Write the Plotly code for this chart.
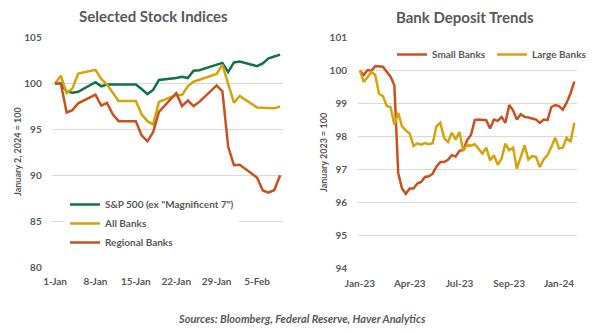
import plotly.graph_objects as go

# ---- Selected Stock Indices (daily, Jan 2, 2024 = 100) ----
trade_dates = [
    "2024-01-01", "2024-01-02", "2024-01-03", "2024-01-04", "2024-01-05",
    "2024-01-08", "2024-01-09", "2024-01-10", "2024-01-11", "2024-01-12",
    "2024-01-15", "2024-01-16", "2024-01-17", "2024-01-18", "2024-01-19",
    "2024-01-22", "2024-01-23", "2024-01-24", "2024-01-25", "2024-01-26",
    "2024-01-29", "2024-01-30", "2024-01-31", "2024-02-01", "2024-02-02",
    "2024-02-05", "2024-02-06", "2024-02-07", "2024-02-08", "2024-02-09",
]
sp500_ex_mag7 = [100.0, 100.0, 99.15, 99.0, 99.1, 100.15, 99.7, 99.9, 99.9, 99.9,
                 99.9, 99.4, 98.85, 99.3, 100.4, 100.6, 100.75, 100.6, 101.4, 101.45,
                 102.05, 102.25, 101.25, 102.3, 102.4, 101.9, 102.2, 102.75, 102.95, 103.15]
all_banks = [100.0, 100.85, 98.95, 99.45, 101.1, 101.5, 100.5, 99.9, 99.0, 98.1,
             98.1, 96.65, 95.9, 95.55, 98.0, 98.75, 98.75, 99.7, 100.2, 100.4,
             101.05, 102.05, 100.0, 97.9, 98.65, 97.4, 97.35, 97.3, 97.3, 97.5]
regional_banks = [100.0, 100.0, 96.85, 97.1, 97.85, 98.8, 97.6, 97.9, 96.65, 95.9,
                  95.9, 94.35, 93.7, 94.7, 96.9, 98.95, 97.55, 98.15, 97.55, 98.0,
                  99.8, 99.15, 93.1, 91.1, 91.15, 89.75, 88.35, 88.1, 88.4, 90.0]
left_tick_dates = ["2024-01-01", "2024-01-08", "2024-01-15",
                   "2024-01-22", "2024-01-29", "2024-02-05"]
left_tick_labels = ["1-Jan", "8-Jan", "15-Jan", "22-Jan", "29-Jan", "5-Feb"]

# ---- Bank Deposit Trends (weekly, January 2023 = 100) ----
week_index = list(range(57))
small_banks = [100.0, 99.87, 100.02, 100.0, 100.14, 100.14, 100.12, 99.97, 99.82, 99.56,
               96.9, 96.43, 96.27, 96.43, 96.43, 96.58, 96.63, 96.78, 96.8, 96.88,
               97.1, 97.23, 97.23, 97.3, 97.44, 97.4, 97.57, 97.6, 97.9, 98.05,
               98.5, 98.52, 98.5, 98.5, 98.25, 98.52, 98.48, 98.6, 98.42, 98.96,
               98.8, 98.52, 98.68, 98.6, 98.58, 98.55, 98.52, 98.42, 98.52, 98.5,
               98.9, 98.96, 98.93, 98.82, 99.03, 99.31, 99.67]
large_banks = [100.0, 99.66, 99.8, 99.97, 99.87, 99.3, 99.23, 98.93, 98.9, 98.36,
               98.72, 98.31, 98.19, 98.1, 97.72, 97.8, 97.76, 97.81, 97.77, 97.8,
               98.32, 98.42, 97.96, 97.84, 98.12, 97.91, 98.14, 97.57, 97.76, 97.73,
               97.77, 97.64, 97.49, 97.67, 97.28, 97.44, 97.15, 97.34, 97.79, 97.59,
               97.67, 97.03, 97.39, 97.74, 97.31, 97.41, 97.39, 97.08, 97.31, 97.44,
               97.69, 97.97, 97.64, 97.67, 97.97, 97.84, 98.42]
right_tick_weeks = [0, 13, 26, 39, 52]
right_tick_labels = ["Jan-23", "Apr-23", "Jul-23", "Sep-23", "Jan-24"]

GREEN = "#0E7448"
GOLD = "#D5A30B"
RUST = "#C8511F"
GRAY = "#595959"
GRID = "#D9D9D9"
FONT = "Lato"
W, H = 600, 334

fig = go.Figure()

left_series = [
    ('S&P 500 (ex "Magnificent 7")', sp500_ex_mag7, GREEN),
    ("All Banks", all_banks, GOLD),
    ("Regional Banks", regional_banks, RUST),
]
for name, vals, color in left_series:
    fig.add_trace(go.Scatter(
        x=trade_dates, y=vals, name=name, mode="lines",
        line=dict(color=color, width=2.5),
        xaxis="x", yaxis="y", legend="legend",
    ))

right_series = [
    ("Small Banks", small_banks, RUST),
    ("Large Banks", large_banks, GOLD),
]
for name, vals, color in right_series:
    fig.add_trace(go.Scatter(
        x=week_index, y=vals, name=name, mode="lines",
        line=dict(color=color, width=2.5),
        xaxis="x2", yaxis="y2", legend="legend2",
    ))


def px_x(p):
    return p / W


def px_y(p):
    return 1 - p / H


tick_font = dict(family=FONT, size=10, color=GRAY, weight="bold")
legend_font = dict(family=FONT, size=10, color=GRAY, weight="bold")

fig.update_layout(
    width=W, height=H,
    margin=dict(l=0, r=0, t=0, b=0, autoexpand=False),
    paper_bgcolor="white", plot_bgcolor="white",
    font=dict(family=FONT, color=GRAY),
    xaxis=dict(
        domain=[px_x(51.7), px_x(283)], type="date",
        range=["2023-12-31 10:00", "2024-02-09 12:00"],
        tickmode="array", tickvals=left_tick_dates, ticktext=left_tick_labels,
        showgrid=False, zeroline=False, showline=False, ticks="",
        tickfont=tick_font, ticklabelstandoff=7, automargin=False, anchor="y",
    ),
    yaxis=dict(
        domain=[px_y(267), px_y(37.7)], range=[80, 105], dtick=5,
        showgrid=True, gridcolor=GRID, gridwidth=1, zeroline=False,
        showline=False, ticks="", tickfont=tick_font,
        ticklabelstandoff=9, automargin=False, anchor="x",
    ),
    xaxis2=dict(
        domain=[px_x(358), px_x(577)], range=[-0.5, 56.7],
        tickmode="array", tickvals=right_tick_weeks, ticktext=right_tick_labels,
        showgrid=False, zeroline=False, showline=False, ticks="",
        tickfont=tick_font, ticklabelstandoff=7, automargin=False, anchor="y2",
    ),
    yaxis2=dict(
        domain=[px_y(268.7), px_y(37.7)], range=[94, 101], dtick=1,
        showgrid=True, gridcolor=GRID, gridwidth=1, zeroline=False,
        showline=False, ticks="", tickfont=tick_font,
        ticklabelstandoff=10, automargin=False, anchor="x2",
    ),
    legend=dict(
        x=px_x(65), y=px_y(190), xanchor="left", yanchor="top",
        orientation="v", bgcolor="white", borderwidth=0,
        font=legend_font, tracegroupgap=0,
    ),
    legend2=dict(
        x=px_x(392), y=px_y(40), xanchor="left", yanchor="top",
        orientation="h", bgcolor="rgba(0,0,0,0)", borderwidth=0,
        font=legend_font, entrywidth=55,
    ),
    showlegend=True,
)

annotations = [
    dict(text="Selected Stock Indices", x=px_x(153), y=px_y(16),
         font=dict(family=FONT, size=15, color=GRAY, weight="bold")),
    dict(text="Bank Deposit Trends", x=px_x(465), y=px_y(17),
         font=dict(family=FONT, size=15, color=GRAY, weight="bold")),
    dict(text="January 2, 2024 = 100", x=px_x(17), y=px_y(152), textangle=-90,
         font=dict(family=FONT, size=9, color=GRAY, weight="bold")),
    dict(text="January 2023 = 100", x=px_x(323), y=px_y(153), textangle=-90,
         font=dict(family=FONT, size=9, color=GRAY, weight="bold")),
    dict(text="<b><i>Sources: Bloomberg, Federal Reserve, Haver Analytics</i></b>",
         x=px_x(302), y=px_y(318),
         font=dict(family=FONT, size=11, color=GRAY)),
]
for a in annotations:
    a.update(xref="paper", yref="paper", xanchor="center", yanchor="middle",
             showarrow=False)
fig.update_layout(annotations=annotations)

fig.write_html("out.html")
